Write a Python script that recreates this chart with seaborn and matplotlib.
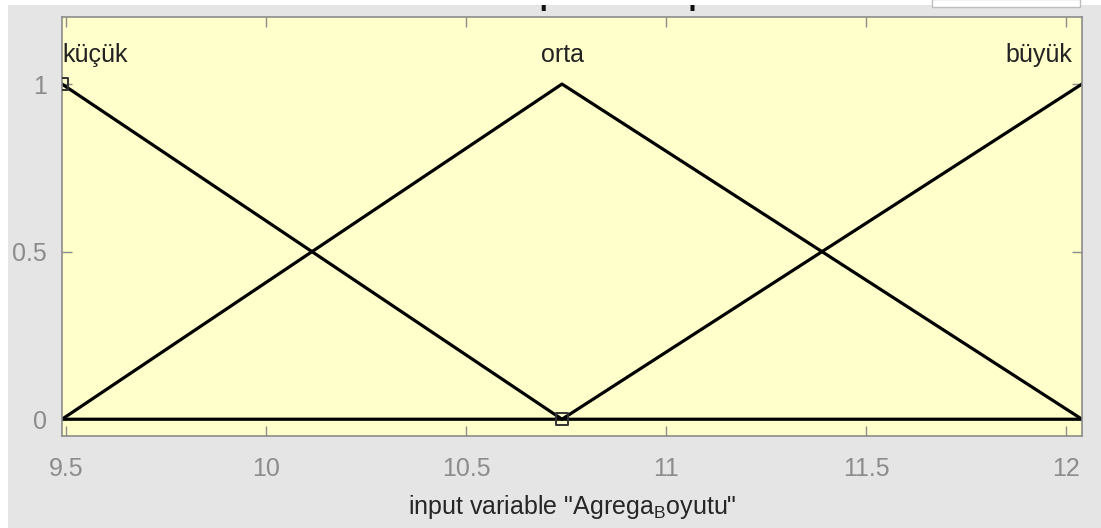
import numpy as np
import pandas as pd
import matplotlib
matplotlib.use("Agg")
import matplotlib.pyplot as plt
import seaborn as sns
from matplotlib.patches import Rectangle

# membership functions of input "Agrega_Boyutu"
mf_names = ["küçük", "orta", "büyük"]
mf_x = [9.49, 10.74, 12.04]
mu_kucuk = [1, 0, 0]
mu_orta = [0, 1, 0]
mu_buyuk = [0, 0, 1]
label_x = [9.49, 10.74, 12.04]
marker_x = [9.49, 10.74]
marker_y = [1, 0]
x_ticks = [9.5, 10, 10.5, 11, 11.5, 12]
y_ticks = [0, 0.5, 1]

df = pd.DataFrame({
    "x": mf_x * 3,
    "mu": mu_kucuk + mu_orta + mu_buyuk,
    "mf": [n for n in mf_names for _ in mf_x],
})

sns.set_theme(style="white")
plt.rcParams["font.family"] = ["Liberation Sans", "DejaVu Sans"]
plt.rcParams["mathtext.fontset"] = "custom"
plt.rcParams["mathtext.rm"] = "Liberation Sans"

fig = plt.figure(figsize=(11.01, 5.28), dpi=100, facecolor="#e5e5e5")

ax = fig.add_axes([62 / 1101, 92 / 528, 1020 / 1101, 419 / 528])
ax.set_facecolor("#ffffcc")

sns.lineplot(data=df, x="x", y="mu", units="mf", estimator=None, sort=False,
             color="black", lw=2.3, ax=ax, legend=False)
sns.scatterplot(x=marker_x, y=marker_y, marker="s", s=75, facecolor="none",
                edgecolor="#333333", linewidth=1.4, ax=ax, zorder=5)

ax.set_xlim(9.49, 12.04)
ax.set_ylim(-0.05, 1.2)
ax.set_xticks(x_ticks)
ax.set_xticklabels(["9.5", "10", "10.5", "11", "11.5", "12"])
ax.set_yticks(y_ticks)
ax.set_yticklabels(["0", "0.5", "1"])

ax.text(label_x[0], 1.088, mf_names[0], ha="left", va="center", fontsize=18, color="#222222")
ax.text(label_x[1], 1.088, mf_names[1], ha="center", va="center", fontsize=18, color="#222222")
ax.text(label_x[2] - 0.025, 1.088, mf_names[2], ha="right", va="center", fontsize=18, color="#222222")

for s in ax.spines.values():
    s.set_color("#8c8c8c")
    s.set_linewidth(1.2)
ax.tick_params(axis="x", direction="in", top=True, bottom=True, length=7, width=1,
               color="#8c8c8c", labelcolor="#8c8c8c", labelsize=18, pad=15)
ax.tick_params(axis="y", direction="in", left=True, right=True, length=7, width=1,
               color="#8c8c8c", labelcolor="#8c8c8c", labelsize=18, pad=11)

ax.set_xlabel(r'input variable "Agrega$_\mathrm{B}$oyutu"', fontsize=18,
              color="#262626", labelpad=9)
ax.set_ylabel("")

# title mostly hidden behind the white strip at the top
fig.text(572 / 1101, 1 - 5 / 528, "Membership function plots", ha="center",
         va="baseline", fontsize=21, fontweight="bold", color="#111111", zorder=1)
fig.patches.append(Rectangle((0, 1 - 5 / 528), 1, 5 / 528, transform=fig.transFigure,
                             facecolor="white", edgecolor="none", zorder=3))
fig.patches.append(Rectangle((0, 0), 8 / 1101, 1, transform=fig.transFigure,
                             facecolor="white", edgecolor="none", zorder=3))
fig.patches.append(Rectangle((932 / 1101, 1 - 7 / 528), 148 / 1101, 8 / 528,
                             transform=fig.transFigure, facecolor="white",
                             edgecolor="#bdbdbd", linewidth=1, zorder=4))

fig.savefig("out.png", dpi=100, facecolor=fig.get_facecolor())
